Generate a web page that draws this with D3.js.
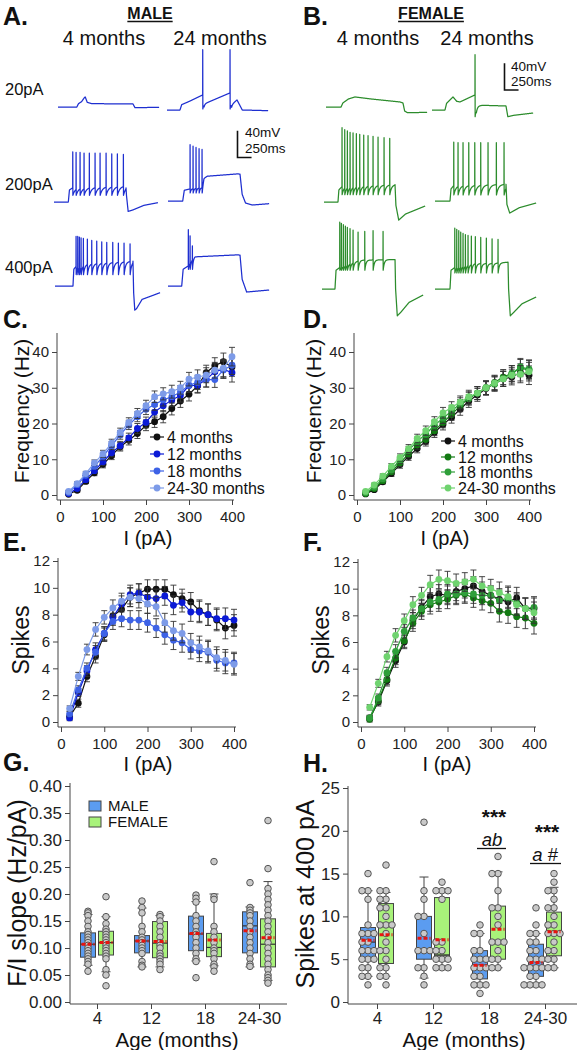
<!DOCTYPE html>
<html><head><meta charset="utf-8">
<script src="https://cdn.jsdelivr.net/npm/d3@7"></script>
<style>body{margin:0;background:#fff} svg{display:block} text{font-family:"Liberation Sans",Arial,Helvetica,sans-serif}</style>
</head><body><svg id="fig" width="577" height="1050"></svg>
<script>
// ---------------- DATA ----------------
const currents = [20,40,60,80,100,120,140,160,180,200,220,240,260,280,300,320,340,360,380,400];
const ageSeries = ['4 months','12 months','18 months','24-30 months'];
const ageGroups = ['4','12','18','24-30'];

const freqM4  = [0.2,1.3,3.8,6.2,8.6,11,13.5,15.3,17.2,19.5,20.5,21.9,24.2,26.3,28.2,30.5,34.2,36.2,37.3,35.8];
const freqM12 = [0.4,1.8,4.3,6.8,9.3,11.8,13.8,16,18.6,20.3,23.2,25,26.6,27.8,30.6,30.7,32.3,34.5,35.2,34.2];
const freqM18 = [0.7,2.9,5.5,8,10.8,13.8,16.8,19.6,21.9,24,25.3,26.6,27.5,28.8,30.7,31.5,32.3,32.3,35,36.3];
const freqM24 = [1,3.2,6,9,11.5,14.5,17.5,20.3,22.8,25,27.5,28.3,28.9,30,32.4,33,33.5,34.9,35.5,38.7];

const freqF4  = [0.3,1.5,3.7,6,8.5,10.8,13,15,17.5,19.7,21.7,24,26.3,28,29.8,31.2,32.5,33,34.3,33.5];
const freqF12 = [0.4,1.8,4,6.5,9,11.5,14,15.5,18,20.3,22.5,25,27,28.5,30,31.5,33,34,35.5,35];
const freqF18 = [0.6,2.2,4.5,7,9.8,12.5,15,17,19.5,21.5,23.5,25.5,27,28.5,30,31,32.5,34,35.8,35.2];
const freqF24 = [1,2.8,5.3,8,10.5,13,15.8,18,20.5,23,24.5,26,27.5,28.5,30,31.3,32.5,33.5,33.8,34.5];

const spkM4  = [0.4,1.4,3.4,4.9,6.5,7.9,8.4,9.3,9.6,9.9,9.9,9.9,9.5,9.2,8.95,8.3,8.0,7.6,7.0,7.2];
const spkM12 = [0.3,2.2,3.8,5.4,6.6,7.8,8.8,9.5,9.6,9.3,9.2,9.4,8.7,8.9,8.2,8.2,8.0,7.7,7.7,7.6];
const spkM18 = [0.6,2.4,4.0,5.2,6.6,7.5,7.7,7.6,7.6,7.4,7.0,6.5,6.1,5.9,5.4,5.3,5.2,4.6,4.4,4.4];
const spkM24 = [1.0,3.4,5.4,6.9,7.8,8.5,9.0,9.3,9.2,8.8,8.6,7.4,6.8,6.6,5.9,5.6,5.3,4.8,4.6,4.3];

const spkF4  = [0.3,1.5,3.1,4.6,6.0,7.6,8.6,9.4,9.6,9.5,9.8,10.0,10.2,9.8,9.5,9.2,9.0,9.3,8.5,8.5];
const spkF12 = [0.2,1.6,3.2,4.8,6.1,7.4,8.3,8.8,9.0,9.2,9.5,9.6,9.3,9.1,8.9,8.3,8.2,7.9,7.8,7.4];
const spkF18 = [0.3,1.8,3.7,5.3,6.8,7.8,8.5,9.0,9.2,9.6,9.6,9.7,9.6,9.5,9.5,9.1,9.3,8.9,8.5,8.6];
const spkF24 = [1.1,2.9,4.9,6.5,7.6,8.8,9.5,10.3,10.7,10.6,10.4,10.5,10.7,10.2,10.0,9.7,9.4,8.8,8.5,8.2];

const errFreq = [0.3,0.5,0.6,0.8,1.0,1.1,1.2,1.3,1.4,1.5,1.6,1.7,1.8,1.8,1.9,2.0,2.1,2.2,2.4,2.6];
const errSpk  = [0.2,0.3,0.4,0.5,0.5,0.6,0.6,0.7,0.7,0.7,0.7,0.7,0.7,0.7,0.7,0.8,0.8,0.8,0.8,0.8];

// F/I slope (Hz/pA): points per age group; stats = [whiskerLow, q1, median, q3, whiskerHigh, mean]
const slopeMalePts = [
  [0.168,0.165,0.16,0.15,0.14,0.13,0.125,0.12,0.115,0.11,0.105,0.1,0.095,0.09,0.085,0.08,0.075,0.07,0.057],
  [0.187,0.175,0.165,0.14,0.13,0.12,0.115,0.11,0.105,0.1,0.095,0.09,0.075,0.068,0.065],
  [0.198,0.192,0.185,0.16,0.15,0.14,0.13,0.125,0.12,0.11,0.1,0.09,0.08,0.075,0.045],
  [0.221,0.175,0.17,0.165,0.16,0.15,0.14,0.13,0.12,0.11,0.1,0.09,0.08,0.07,0.066]];
const slopeMaleStats = [[0.068,0.083,0.107,0.128,0.162,0.107],[0.065,0.091,0.113,0.123,0.174,0.113],
  [0.076,0.095,0.126,0.159,0.186,0.127],[0.065,0.091,0.141,0.167,0.176,0.132]];
const slopeFemPts = [
  [0.195,0.158,0.145,0.135,0.13,0.125,0.12,0.115,0.11,0.105,0.1,0.095,0.09,0.085,0.08,0.06,0.05,0.03],
  [0.162,0.158,0.15,0.14,0.13,0.12,0.11,0.105,0.1,0.09,0.085,0.08,0.075,0.07,0.06],
  [0.26,0.195,0.19,0.14,0.13,0.12,0.11,0.1,0.095,0.09,0.08,0.07,0.065,0.057],
  [0.336,0.247,0.21,0.2,0.19,0.18,0.17,0.16,0.15,0.14,0.13,0.12,0.11,0.1,0.09,0.08,0.07,0.06,0.05,0.045,0.04,0.035]];
const slopeFemStats = [[0.056,0.087,0.11,0.131,0.158,0.11],[0.065,0.082,0.109,0.149,0.16,0.112],
  [0.067,0.084,0.101,0.127,0.2,0.115],[0.04,0.065,0.107,0.154,0.223,0.119]];

// Spikes at 400 pA
const s400MalePts = [
  [15,13,13,12,9,8,8,8,7,7,6,6,6,5,5,5,4,4,3,3,2],
  [21,13,12,10,10,8,6,6,6,4,4,3,2],
  [9,8,8,6,6,5,5,5,4,4,4,3,3,2,2,2,1],
  [11,9,8,8,7,7,6,6,5,5,5,4,4,4,4,3,3,2,2,2,2]];
const s400MaleStats = [[3,5,7,8.7,13,7.2],[2.8,5,6,10,14.6,7.45],[2,2.7,4.3,6,8,4.3],[2,3,4,6.75,8,4.6]];
const s400FemPts = [
  [16,13,13,12,12,11,11,10,9,9,9,8,7,6,6,5,4,4,3,3,2],
  [14,13,13,13,12,7,7,6,6,5,5,5,4,4,4],
  [17,15,15,13,11,11,10,9,7,7,7,6,5,5,4,4],
  [15,14,13,13,12,11,11,10,9,9,8,8,8,7,6,6,5,5,4,4]];
const s400FemStats = [[3,4.5,9,11.5,12.8,7.85],[4,5.4,5.5,12.2,13,7.27],[4,5,7,11.2,15.2,8.5],[4,5.4,8,10.5,13.4,8.2]];

// Example traces: envelope knots [ms, mV], spike times (ms), spike peaks (mV)
const trM4_20  = {env:[[0,-70],[335,-70],[365,-65],[420,-62],[470,-56],[485,-55],[520,-63],[600,-65],[1335,-65.5],[1370,-71],[1800,-70.5]], spikes:[], peaks:[], trough:-70, tau:10, stepEnd:1335};
const trM24_20 = {env:[[0,-70],[231,-70],[262,-62],[400,-57],[635,-47.5],[660,-61],[1121,-44.5],[1150,-62],[1246,-55],[1290,-62],[1340,-70],[1800,-71]], spikes:[635,1121], peaks:[20,20], trough:-68.5, tau:15, stepEnd:1300};
const trM4_200 = {env:[[0,-70],[255,-70],[275,-52],[330,-49],[1280,-46],[1290,-60],[1320,-84],[1400,-82],[1600,-75],[1850,-71]], spikes:[333,392,463,534,628,730,819,926,1027,1127,1234], peaks:[5,4,4,3,3,3,3,3,2,2,1], trough:-60, tau:40, stepEnd:1282};
const trM24_200 = {env:[[0,-70],[262,-70],[290,-54],[390,-52],[610,-50],[640,-36],[700,-33],[1246,-29.5],[1282,-30],[1320,-60],[1380,-73],[1500,-76],[1800,-74]], spikes:[392,445,498,552,605], peaks:[14,12,10,8,7], trough:-58, tau:15, stepEnd:1282};
const trM4_400 = {env:[[0,-70],[320,-70],[335,-45],[400,-38],[1388,-33],[1400,-80],[1420,-106],[1450,-104],[1550,-90],[1870,-80]], spikes:[374,404,433,463,504,575,653,742,831,920,1027,1127,1228,1335], peaks:[4,4,3,2,1,0,-2,-3,-4,-5,-5,-6,-6,-7], trough:-53, tau:25, stepEnd:1388};
const trM24_400 = {env:[[0,-70],[244,-70],[270,-45],[361,-40],[440,-30],[480,-26.5],[1246,-23.5],[1282,-24],[1320,-60],[1400,-79],[1800,-76]], spikes:[361,392,433], peaks:[14,5,-10], trough:-45, tau:12, stepEnd:1282};
const trF4_20  = {env:[[0,-70],[267,-70],[300,-64],[400,-58],[516,-55],[800,-58],[1317,-62.5],[1370,-64],[1400,-76],[1450,-78.5],[1800,-78]], spikes:[], peaks:[], trough:-70, tau:10, stepEnd:1370};
const trF24_20 = {env:[[0,-70],[231,-70],[260,-60],[374,-50.5],[440,-57],[498,-58],[765,-47.5],[790,-64],[900,-63],[1317,-64],[1350,-80],[1450,-78],[1800,-74.5]], spikes:[765], peaks:[12.5], trough:-80, tau:20, stepEnd:1317};
const trF4_200 = {env:[[0,-70],[249,-70],[265,-52],[320,-47],[1264,-44],[1280,-75],[1330,-97],[1450,-88],[1800,-76]], spikes:[320,368,415,463,516,575,635,706,783,872,961,1068,1169], peaks:[41,38,36,34,33,32,31,30,29,28,27,26,25], trough:-59, tau:30, stepEnd:1264};
const trF24_200 = {env:[[0,-70],[267,-70],[285,-52],[333,-47],[1264,-45],[1280,-75],[1330,-88],[1500,-80],[1800,-73]], spikes:[333,409,498,600,707,813,943,1091,1228], peaks:[18,17,17,17,17,17,17,17,17], trough:-61, tau:35, stepEnd:1264};
const trF4_400 = {env:[[0,-70],[231,-70],[250,-42],[315,-38],[560,-30],[700,-27],[1300,-26],[1310,-70],[1340,-110],[1400,-105],[1550,-90],[1800,-79]], spikes:[315,344,379,415,450,498,552,641,760,908,1086], peaks:[30,28,26,24,22,20,18,15,16,17,16], trough:-42, tau:20, stepEnd:1300};
const trF24_400 = {env:[[0,-70],[267,-70],[285,-42],[351,-38],[700,-32],[1000,-32],[1300,-30],[1310,-70],[1340,-110],[1400,-105],[1550,-92],[1800,-82]], spikes:[351,386,422,457,498,540,587,646,717,813,913,1015,1121], peaks:[21,19,17,15,13,11,10,9,8,7,6,5,4], trough:-46, tau:20, stepEnd:1300};

// ---------------- DRAWING ----------------
const svg = d3.select('#fig');
const maleCols = ['#111111','#0b1ad6','#3d62e6','#7d9be8'];
const femCols  = ['#111111','#137a13','#2f9f3a','#6fd36f'];
const traceBlue = '#1e2fd0', traceGreen = '#2c8c2c';

function txt(x, y, s, o = {}) {
  const t = svg.append('text').attr('x', x).attr('y', y).text(s)
    .attr('font-size', o.size || 16).attr('fill', o.fill || '#111')
    .attr('text-anchor', o.anchor || 'start');
  if (o.bold) t.attr('font-weight', 'bold');
  if (o.italic) t.attr('font-style', 'italic');
  if (o.rotate) t.attr('transform', `rotate(-90,${x},${y})`);
  return t;
}

// headers
txt(3, 25, 'A.', {size: 25, bold: true});
txt(303, 25, 'B.', {size: 25, bold: true});
function underlined(x, y, s, size) {
  const t = txt(x, y, s, {size, bold: true, anchor: 'middle'});
  const w = t.node().getComputedTextLength();
  svg.append('line').attr('x1', x - w/2).attr('x2', x + w/2).attr('y1', y + 2.5).attr('y2', y + 2.5)
    .attr('stroke', '#111').attr('stroke-width', 1.4);
}
underlined(150, 19, 'MALE', 16);
underlined(431, 19, 'FEMALE', 16);
txt(104, 45, '4 months', {size: 20, anchor: 'middle'});
txt(220, 45, '24 months', {size: 20, anchor: 'middle'});
txt(378, 45, '4 months', {size: 20, anchor: 'middle'});
txt(487, 45, '24 months', {size: 20, anchor: 'middle'});
txt(5, 95, '20pA', {size: 16.5});
txt(5, 190, '200pA', {size: 16.5});
txt(5, 273, '400pA', {size: 16.5});

const MS_PER_PX = 17.8, PX_PER_MV = 0.67;
function drawTrace(tr, x0, baseY, color) {
  const tEnd = tr.env[tr.env.length - 1][0];
  const xs = d3.scaleLinear().domain([0, tEnd]).range([x0, x0 + tEnd / MS_PER_PX]);
  const ys = d3.scaleLinear().domain([-70, 20]).range([baseY, baseY - 90 * PX_PER_MV]);
  const env = d3.scaleLinear().domain(tr.env.map(d => d[0])).range(tr.env.map(d => d[1]));
  const pts = [];
  let k = 0, last = null;
  const vAt = t => {
    let v = env(t);
    if (last && t > last.t && t < tr.stepEnd) v += last.off * Math.exp(-(t - last.t) / tr.tau);
    return v;
  };
  for (let t = 0; t <= tEnd; t += 2) {
    while (k < tr.spikes.length && tr.spikes[k] <= t) {
      const ts = tr.spikes[k];
      pts.push([ts, vAt(ts)]);
      pts.push([ts + 1, tr.peaks[k]]);
      pts.push([ts + 3, tr.trough]);
      last = {t: ts + 3, off: tr.trough - env(ts + 3)};
      k++;
    }
    if (last && t <= last.t) continue;
    pts.push([t, vAt(t)]);
  }
  svg.append('path').attr('d', d3.line().x(d => xs(d[0])).y(d => ys(d[1]))(pts))
    .attr('fill', 'none').attr('stroke', color).attr('stroke-width', 1.25).attr('stroke-linejoin', 'round');
}
drawTrace(trM4_20, 58, 107, traceBlue);
drawTrace(trM24_20, 167, 110, traceBlue);
drawTrace(trM4_200, 54, 202, traceBlue);
drawTrace(trM24_200, 168, 201, traceBlue);
drawTrace(trM4_400, 55, 286, traceBlue);
drawTrace(trM24_400, 168, 286, traceBlue);
drawTrace(trF4_20, 326, 107, traceGreen);
drawTrace(trF24_20, 432, 110, traceGreen);
drawTrace(trF4_200, 324, 202, traceGreen);
drawTrace(trF24_200, 435, 201, traceGreen);
drawTrace(trF4_400, 322, 289, traceGreen);
drawTrace(trF24_400, 435, 289, traceGreen);

function scaleBar(x, yBottom, tx, ty1, ty2) {
  const h = 40 * PX_PER_MV, w = 250 / MS_PER_PX;
  svg.append('path').attr('d', `M${x},${yBottom - h}V${yBottom}H${x + w}`)
    .attr('fill', 'none').attr('stroke', '#111').attr('stroke-width', 1.6);
  txt(tx, ty1, '40mV', {size: 13.5});
  txt(tx, ty2, '250ms', {size: 13.5});
}
scaleBar(237.5, 157.5, 245, 137, 153);
scaleBar(504.5, 90, 511, 70.5, 86);

// ---------- line panels ----------
function axisStyle(sel, size) {
  sel.selectAll('text').attr('font-size', size).attr('fill', '#222')
    .attr('font-family', '"Liberation Sans",Arial,sans-serif');
  sel.selectAll('line').attr('stroke', '#444');
  sel.select('.domain').remove();
}
function linePanel(cfg) {
  const x = d3.scaleLinear().domain([0, 400]).range(cfg.xr);
  const y = d3.scaleLinear().domain([0, cfg.yMax]).range([cfg.y0, cfg.y1]);
  const g = svg.append('g');
  const ya = g.append('g').attr('transform', `translate(${cfg.yAxisX},0)`)
    .call(d3.axisLeft(y).tickValues(cfg.yTicks).tickSize(5).tickPadding(3));
  axisStyle(ya, 15);
  const xa = g.append('g').attr('transform', `translate(0,${cfg.xAxisY})`)
    .call(d3.axisBottom(x).tickValues([0, 100, 200, 300, 400]).tickSize(5).tickPadding(6));
  axisStyle(xa, 15);
  g.append('line').attr('x1', cfg.yAxisX).attr('x2', cfg.yAxisX).attr('y1', cfg.yTop).attr('y2', cfg.xAxisY).attr('stroke', '#444');
  g.append('line').attr('x1', cfg.yAxisX).attr('x2', x(400) + 2).attr('y1', cfg.xAxisY).attr('y2', cfg.xAxisY).attr('stroke', '#444');
  cfg.series.forEach((vals, i) => {
    const col = cfg.colors[i];
    const sg = g.append('g');
    vals.forEach((v, j) => {
      const cx = x(currents[j]), e = cfg.err[j];
      sg.append('path').attr('d', `M${cx},${y(v - e)}V${y(v + e)}M${cx - 3},${y(v - e)}h6M${cx - 3},${y(v + e)}h6`)
        .attr('stroke', '#333').attr('stroke-width', 0.9).attr('fill', 'none');
    });
    sg.append('path').attr('d', d3.line().x((d, j) => x(currents[j])).y(d => y(d))(vals))
      .attr('fill', 'none').attr('stroke', col).attr('stroke-width', 1.2);
    sg.selectAll('circle').data(vals).join('circle')
      .attr('cx', (d, j) => x(currents[j])).attr('cy', d => y(d)).attr('r', 3.4).attr('fill', col);
  });
  txt(cfg.xTitle[0], cfg.xTitle[1], 'I (pA)', {size: 20, anchor: 'middle'});
  txt(cfg.yTitle[0], cfg.yTitle[1], cfg.yLabel, {size: cfg.yTitleSize, anchor: 'middle', rotate: true});
  if (cfg.legend) {
    const L = cfg.legend;
    ageSeries.forEach((s, i) => {
      const yy = L.rows[i];
      g.append('line').attr('x1', L.x - 7).attr('x2', L.x + 7).attr('y1', yy).attr('y2', yy).attr('stroke', cfg.colors[i]).attr('stroke-width', 1.2);
      g.append('circle').attr('cx', L.x).attr('cy', yy).attr('r', 3.4).attr('fill', cfg.colors[i]);
      txt(L.x + 10, yy + 6, s, {size: 16});
    });
  }
}

txt(3, 328, 'C.', {size: 25, bold: true});
txt(303, 328, 'D.', {size: 25, bold: true});
txt(3, 551, 'E.', {size: 25, bold: true});
txt(303, 551, 'F.', {size: 25, bold: true});
txt(3, 771, 'G.', {size: 25, bold: true});
txt(303, 772, 'H.', {size: 25, bold: true});

linePanel({xr: [60, 232], y0: 495, y1: 352, yMax: 40, yTicks: [0, 10, 20, 30, 40], yAxisX: 57, xAxisY: 500, yTop: 333,
  series: [freqM4, freqM12, freqM18, freqM24], colors: maleCols, err: errFreq,
  xTitle: [148, 545], yTitle: [29, 411], yLabel: 'Frequency (Hz)', yTitleSize: 21,
  legend: {x: 157, rows: [437, 454, 471, 488]}});
linePanel({xr: [357, 529], y0: 495, y1: 352, yMax: 40, yTicks: [0, 10, 20, 30, 40], yAxisX: 354, xAxisY: 500, yTop: 333,
  series: [freqF4, freqF12, freqF18, freqF24], colors: femCols, err: errFreq,
  xTitle: [445, 545], yTitle: [321, 411], yLabel: 'Frequency (Hz)', yTitleSize: 21,
  legend: {x: 448, rows: [441, 457, 472, 488]}});
linePanel({xr: [61, 234], y0: 722, y1: 561, yMax: 12, yTicks: [0, 2, 4, 6, 8, 10, 12], yAxisX: 58, xAxisY: 727, yTop: 558,
  series: [spkM4, spkM12, spkM18, spkM24], colors: maleCols, err: errSpk,
  xTitle: [148, 771], yTitle: [29, 640], yLabel: 'Spikes', yTitleSize: 23});
linePanel({xr: [361, 534], y0: 722, y1: 562, yMax: 12, yTicks: [0, 2, 4, 6, 8, 10, 12], yAxisX: 358, xAxisY: 727, yTop: 559,
  series: [spkF4, spkF12, spkF18, spkF24], colors: femCols, err: errSpk,
  xTitle: [447, 771], yTitle: [329, 640], yLabel: 'Spikes', yTitleSize: 23});

// ---------- box panels ----------
const maleFill = '#5b9cf0', femFill = '#a8f27a';
function boxPanel(cfg) {
  const y = d3.scaleLinear().domain([0, cfg.yMax]).range([cfg.y0, cfg.y1]);
  const xp = d3.scalePoint().domain(ageGroups).range(cfg.xr);
  const g = svg.append('g');
  const ya = g.append('g').attr('transform', `translate(${cfg.yAxisX},0)`)
    .call(d3.axisLeft(y).tickValues(cfg.yTicks).tickFormat(cfg.fmt).tickSize(5).tickPadding(3));
  axisStyle(ya, 17);
  const xa = g.append('g').attr('transform', `translate(0,${cfg.xAxisY})`)
    .call(d3.axisBottom(xp).tickSize(5).tickPadding(3));
  axisStyle(xa, 17);
  g.append('line').attr('x1', cfg.yAxisX).attr('x2', cfg.yAxisX).attr('y1', cfg.yTop).attr('y2', cfg.xAxisY).attr('stroke', '#444');
  g.append('line').attr('x1', cfg.yAxisX).attr('x2', cfg.xEnd).attr('y1', cfg.xAxisY).attr('y2', cfg.xAxisY).attr('stroke', '#444');
  const bw = 15;
  [[cfg.mPts, cfg.mStats, maleFill, -9], [cfg.fPts, cfg.fStats, femFill, 9]].forEach(([pts, stats, fill, off]) => {
    ageGroups.forEach((a, i) => {
      const cx = xp(a) + off, s = stats[i];
      const bg = g.append('g');
      bg.append('path').attr('d', `M${cx},${y(s[0])}V${y(s[4])}M${cx - 4.5},${y(s[0])}h9M${cx - 4.5},${y(s[4])}h9`)
        .attr('stroke', '#444').attr('stroke-width', 1).attr('fill', 'none');
      bg.append('rect').attr('x', cx - bw / 2).attr('width', bw).attr('y', y(s[3])).attr('height', y(s[1]) - y(s[3]))
        .attr('fill', fill).attr('stroke', '#444').attr('stroke-width', 1);
      bg.append('line').attr('x1', cx - bw / 2).attr('x2', cx + bw / 2).attr('y1', y(s[2])).attr('y2', y(s[2]))
        .attr('stroke', '#333').attr('stroke-width', 1.2);
      const placed = [];
      pts[i].forEach(v => {
        const py = y(v);
        let dx = 0;
        for (const m of [0, -1, 1, -2, 2, -3, 3]) {
          const tx = m * cfg.step;
          if (!placed.some(p => Math.hypot(p[0] - tx, p[1] - py) < cfg.minD)) { dx = tx; break; }
        }
        placed.push([dx, py]);
        bg.append('circle').attr('cx', cx + dx).attr('cy', py).attr('r', 3.3)
          .attr('fill', '#c9c9c9').attr('stroke', '#555').attr('stroke-width', 1);
      });
      bg.append('line').attr('x1', cx - bw / 2 + 1).attr('x2', cx + bw / 2 - 1).attr('y1', y(s[5])).attr('y2', y(s[5]))
        .attr('stroke', '#e8140f').attr('stroke-width', 3).attr('stroke-dasharray', '4,2');
    });
  });
  txt(cfg.xTitle[0], cfg.xTitle[1], 'Age (months)', {size: 20.5, anchor: 'middle'});
  txt(cfg.yTitle[0], cfg.yTitle[1], cfg.yLabel, {size: 25, anchor: 'middle', rotate: true});
}

boxPanel({yMax: 0.4, y0: 1002, y1: 786, yTop: 783, yAxisX: 70, xAxisY: 1004, xEnd: 287, xr: [97, 259],
  yTicks: [0, 0.05, 0.1, 0.15, 0.2, 0.25, 0.3, 0.35, 0.4], fmt: d3.format('.2f'),
  mPts: slopeMalePts, mStats: slopeMaleStats, fPts: slopeFemPts, fStats: slopeFemStats,
  step: 3, minD: 1.6, xTitle: [177, 1047], yTitle: [26, 893], yLabel: 'F/I slope (Hz/pA)'});
boxPanel({yMax: 25, y0: 1002, y1: 788, yTop: 786, yAxisX: 348, xAxisY: 1004, xEnd: 577, xr: [377, 545],
  yTicks: [0, 5, 10, 15, 20, 25], fmt: d3.format('d'),
  mPts: s400MalePts, mStats: s400MaleStats, fPts: s400FemPts, fStats: s400FemStats,
  step: 6, minD: 5.5, xTitle: [464, 1047], yTitle: [314, 894], yLabel: 'Spikes at 400 pA'});

// legend G
svg.append('rect').attr('x', 89).attr('y', 801).attr('width', 12).attr('height', 10).attr('fill', maleFill).attr('stroke', '#444');
txt(108, 811, 'MALE', {size: 15});
svg.append('rect').attr('x', 89).attr('y', 817).attr('width', 12).attr('height', 10).attr('fill', femFill).attr('stroke', '#444');
txt(108, 827, 'FEMALE', {size: 15});

// significance annotations H
txt(494, 824, '***', {size: 21, bold: true, anchor: 'middle'});
txt(492, 846, 'ab', {size: 18.5, italic: true, anchor: 'middle'});
svg.append('line').attr('x1', 477).attr('x2', 506).attr('y1', 848.5).attr('y2', 848.5).attr('stroke', '#111').attr('stroke-width', 1.3);
txt(547, 839, '***', {size: 21, bold: true, anchor: 'middle'});
txt(545, 861, 'a #', {size: 18.5, italic: true, anchor: 'middle'});
svg.append('line').attr('x1', 530).attr('x2', 561).attr('y1', 863.5).attr('y2', 863.5).attr('stroke', '#111').attr('stroke-width', 1.3);
</script>
</body></html>
